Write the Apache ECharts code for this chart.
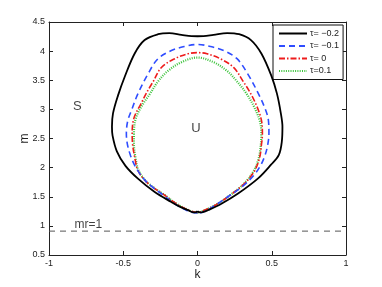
<!DOCTYPE html>
<html><head><meta charset="utf-8">
<script src="https://cdn.jsdelivr.net/npm/echarts@6/dist/echarts.min.js"></script>
<style>html,body{margin:0;padding:0;background:#fff}#c{width:382px;height:287px}</style>
</head><body><div id="c"></div>
<script>
const seriesNames = ['τ= −0.2', 'τ= −0.1', 'τ= 0', 'τ=0.1'];
// [k, m] points traced around each closed curve
const curveTauM02 = [[0,1.25],[-0.015,1.232],[-0.035,1.236],[-0.064,1.27],[-0.12,1.33],[-0.176,1.41],[-0.288,1.58],[-0.401,1.81],[-0.485,2.03],[-0.543,2.28],[-0.572,2.55],[-0.576,2.7],[-0.569,2.93],[-0.535,3.24],[-0.49,3.56],[-0.423,3.96],[-0.356,4.19],[-0.266,4.29],[-0.19,4.31],[-0.108,4.28],[-0.04,4.257],[0,4.255],[0.04,4.257],[0.108,4.28],[0.2,4.31],[0.28,4.29],[0.36,4.19],[0.43,3.96],[0.497,3.58],[0.535,3.27],[0.56,2.95],[0.572,2.7],[0.568,2.45],[0.548,2.22],[0.495,2.05],[0.41,1.82],[0.273,1.555],[0.161,1.38],[0.08,1.28],[0.035,1.236],[0.015,1.232],[0,1.25]];
const curveTauM01 = [[0,1.22],[-0.05,1.24],[-0.142,1.36],[-0.232,1.53],[-0.3,1.66],[-0.356,1.79],[-0.392,1.91],[-0.423,2.04],[-0.45,2.2],[-0.472,2.4],[-0.479,2.58],[-0.47,2.8],[-0.445,2.98],[-0.401,3.27],[-0.333,3.61],[-0.266,3.87],[-0.176,4.01],[-0.086,4.08],[0,4.115],[0.086,4.08],[0.176,4.01],[0.266,3.87],[0.338,3.61],[0.41,3.27],[0.46,2.98],[0.478,2.8],[0.481,2.58],[0.472,2.38],[0.453,2.2],[0.425,2.04],[0.38,1.87],[0.3,1.67],[0.205,1.5],[0.116,1.35],[0.04,1.24],[0,1.22]];
const curveTau0 = [[0,1.225],[-0.052,1.26],[-0.142,1.38],[-0.232,1.545],[-0.288,1.64],[-0.35,1.77],[-0.401,1.95],[-0.423,2.18],[-0.437,2.4],[-0.44,2.58],[-0.428,2.85],[-0.38,3.1],[-0.333,3.33],[-0.3,3.47],[-0.243,3.72],[-0.153,3.87],[-0.064,3.955],[0,3.975],[0.064,3.955],[0.153,3.87],[0.243,3.72],[0.31,3.47],[0.345,3.33],[0.395,3.08],[0.43,2.82],[0.437,2.58],[0.43,2.38],[0.419,2.18],[0.385,1.95],[0.318,1.73],[0.205,1.5],[0.116,1.35],[0.03,1.25],[0,1.225]];
const curveTauP01 = [[0,1.225],[-0.052,1.26],[-0.142,1.38],[-0.232,1.55],[-0.288,1.645],[-0.348,1.77],[-0.398,1.96],[-0.418,2.18],[-0.428,2.4],[-0.428,2.58],[-0.415,2.85],[-0.37,3.08],[-0.322,3.26],[-0.266,3.48],[-0.199,3.66],[-0.108,3.81],[0,3.89],[0.108,3.81],[0.199,3.66],[0.266,3.48],[0.33,3.27],[0.38,3.05],[0.42,2.8],[0.43,2.58],[0.425,2.36],[0.412,2.16],[0.38,1.95],[0.315,1.73],[0.205,1.5],[0.116,1.35],[0.03,1.25],[0,1.225]];
const mrLevel = 0.91;
const annotationTexts = ['mr=1', 'S', 'U'];
const annotationPoints = [[-0.735, 1.02], [-0.81, 3.05], [-0.01, 2.67]];
const xTicks = { min: -1, max: 1, interval: 0.5 };
const yTicks = { min: 0.5, max: 4.5, interval: 0.5 };

const font = 'Liberation Sans, Arial, sans-serif';
const chart = echarts.init(document.getElementById('c'), null, { renderer: 'canvas' });
const axisCommon = {
  type: 'value', splitLine: { show: false },
  axisLine: { show: true, onZero: false, lineStyle: { color: '#222', width: 1 } },
  axisTick: { show: true, inside: true, length: 4, lineStyle: { color: '#222' } },
};
const lab = { color: '#222', fontSize: 9, fontFamily: font };
chart.setOption({
  animation: false,
  grid: { left: 49, right: 36, top: 22, bottom: 32 },
  xAxis: [
    Object.assign({}, axisCommon, xTicks, { position: 'bottom', name: 'k', nameLocation: 'middle', nameGap: 14,
      nameMoveOverlap: false,
      nameTextStyle: { fontSize: 12, color: '#222', fontFamily: font }, axisLabel: Object.assign({ margin: 4 }, lab) }),
    Object.assign({}, axisCommon, xTicks, { position: 'top', axisLabel: { show: false } })
  ],
  yAxis: [
    Object.assign({}, axisCommon, yTicks, { position: 'left', name: 'm', nameLocation: 'middle', nameGap: 18, nameRotate: 90,
      nameMoveOverlap: false,
      nameTextStyle: { fontSize: 12, color: '#222', fontFamily: font }, axisLabel: Object.assign({ margin: 4 }, lab) }),
    Object.assign({}, axisCommon, yTicks, { position: 'right', axisLabel: { show: false } })
  ],
  legend: {
    orient: 'vertical', left: 273, top: 25, padding: [4, 4, 4, 5], itemGap: 3.5,
    itemWidth: 28, itemHeight: 9, borderColor: '#111', borderWidth: 1, backgroundColor: '#fff', borderRadius: 0,
    itemStyle: { opacity: 0 },
    textStyle: { fontSize: 9, color: '#222', fontFamily: font, padding: [0, 0, 0, -2] },
    data: seriesNames
  },
  series: [
    { name: seriesNames[0], type: 'line', data: curveTauM02, symbol: 'none', smooth: 0.35, z: 5,
      lineStyle: { color: '#000', width: 1.8 }, itemStyle: { color: '#000' } },
    { name: seriesNames[1], type: 'line', data: curveTauM01, symbol: 'none', smooth: 0.35, z: 4,
      lineStyle: { color: '#2f4dff', width: 1.6, type: [6, 4] }, itemStyle: { color: '#2f4dff' } },
    { name: seriesNames[2], type: 'line', data: curveTau0, symbol: 'none', smooth: 0.35, z: 3,
      lineStyle: { color: '#ee1c1c', width: 1.6, type: [6, 2, 1.5, 2] }, itemStyle: { color: '#ee1c1c' } },
    { name: seriesNames[3], type: 'line', data: curveTauP01, symbol: 'none', smooth: 0.35, z: 2,
      lineStyle: { color: '#3cc43c', width: 2.2, type: [1, 1.3] }, itemStyle: { color: '#3cc43c' } },
    { name: 'mr', type: 'line', data: [[xTicks.min, mrLevel], [xTicks.max, mrLevel]], symbol: 'none', silent: true,
      lineStyle: { color: '#555', width: 1, type: [6, 5] } },
    { name: 'notes', type: 'scatter', silent: true, symbolSize: 0, z: 10,
      data: annotationPoints.map((p, i) => ({ value: p, label: { show: true, position: 'inside', formatter: annotationTexts[i],
        fontSize: i === 0 ? 12 : 13, color: '#111', fontFamily: font } })) }
  ]
});
</script></body></html>
